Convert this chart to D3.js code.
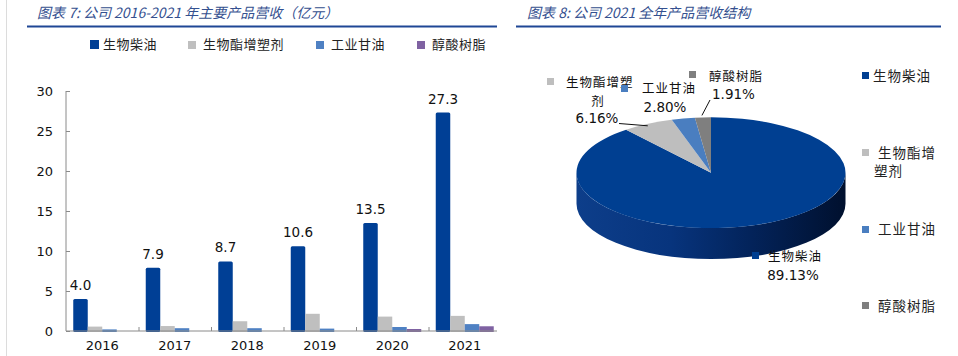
<!DOCTYPE html>
<html><head><meta charset="utf-8">
<script src="https://cdn.jsdelivr.net/npm/d3@7"></script>
<style>
html,body{margin:0;padding:0;background:#fff;}
svg{display:block;}
.cjk{font-family:"Noto Sans CJK SC","Noto Sans",sans-serif;}
.num{font-family:"DejaVu Sans",Verdana,sans-serif;}
</style></head>
<body>
<svg id="c" width="958" height="356"></svg>
<script>
// ---- data ----
const years = ["2016","2017","2018","2019","2020","2021"];
const seriesNames = ["生物柴油","生物酯增塑剂","工业甘油","醇酸树脂"];
const biodiesel   = [4.0, 7.9, 8.7, 10.6, 13.5, 27.3];
const plasticizer = [0.55, 0.62, 1.22, 2.15, 1.80, 1.89];
const glycerin    = [0.20, 0.35, 0.35, 0.30, 0.50, 0.86];
const alkyd       = [0, 0, 0, 0, 0.25, 0.59];
const yTicks = [0,5,10,15,20,25,30];
const pieNames  = ["生物柴油","生物酯增塑剂","工业甘油","醇酸树脂"];
const pieShares = [89.13, 6.16, 2.80, 1.91];

const barColors = ["#003f95","#bfbfbf","#4f81c3","#7f62a2"];
const pieColors = ["#003f91","#bebebe","#4a7ec0","#7f7f7f"];

const svg = d3.select("#c");

// ---- frame / titles ----
svg.append("line").attr("x1",6.5).attr("x2",6.5).attr("y1",0).attr("y2",356)
  .attr("stroke","#dcdcdc").attr("stroke-width",1);
const titleCol = "#34508f";
svg.append("text").attr("class","cjk").attr("x",37).attr("y",18)
  .attr("font-size",14).attr("font-style","italic").attr("fill",titleCol)
  .text("图表 7:  公司 2016-2021 年主要产品营收（亿元）");
svg.append("text").attr("class","cjk").attr("x",527).attr("y",18)
  .attr("font-size",14).attr("font-style","italic").attr("fill",titleCol)
  .text("图表 8:  公司 2021 全年产品营收结构");
svg.append("line").attr("x1",27).attr("x2",497).attr("y1",26.5).attr("y2",26.5)
  .attr("stroke","#1f4795").attr("stroke-width",2);
svg.append("line").attr("x1",516).attr("x2",941).attr("y1",26.5).attr("y2",26.5)
  .attr("stroke","#1f4795").attr("stroke-width",2);

// ---- bar chart ----
const x = d3.scaleBand().domain(years).range([66,501]).paddingInner(0).paddingOuter(0);
const xs = d3.scaleBand().domain(seriesNames).range([0,x.bandwidth()]).paddingInner(0).paddingOuter(0.5);
const y = d3.scaleLinear().domain([0,30]).range([331,91]);
const seriesVals = [biodiesel, plasticizer, glycerin, alkyd];

const left = svg.append("g");
left.append("clipPath").attr("id","clipL").append("rect").attr("x",0).attr("y",0).attr("width",497).attr("height",356);
const plot = left.append("g").attr("clip-path","url(#clipL)");

seriesVals.forEach((vals,si)=>{
  plot.selectAll(null).data(vals.map((v,i)=>({v,yr:years[i]}))).enter()
    .filter(d=>d.v>0)
    .append("rect")
    .attr("x",d=>x(d.yr)+xs(seriesNames[si]))
    .attr("y",d=>y(d.v))
    .attr("width",xs.bandwidth())
    .attr("height",d=>y(0)-y(d.v)+1)
    .attr("rx",si===0?1.5:0)
    .attr("fill",barColors[si]);
});

// axes
const axisCol = "#8a8a8a";
const yAxis = plot.append("g").attr("transform","translate(66,0)")
  .call(d3.axisLeft(y).tickValues(yTicks).tickSize(-4).tickPadding(13));
const xAxis = plot.append("g").attr("transform","translate(0,331)")
  .call(d3.axisBottom(x).tickSize(0).tickPadding(10));
[yAxis,xAxis].forEach(a=>{
  a.select(".domain").attr("stroke",axisCol);
  a.selectAll(".tick line").attr("stroke",axisCol);
  a.selectAll("text").attr("class","num").attr("font-size",13).attr("fill","#111");
});
yAxis.select(".domain").attr("d","M0,91V331");
xAxis.select(".domain").attr("d","M66,0H501");
// category boundary ticks (inward)
plot.append("g").selectAll("line").data(years.slice(1)).enter().append("line")
  .attr("x1",d=>x(d)+0.5).attr("x2",d=>x(d)+0.5).attr("y1",331).attr("y2",327)
  .attr("stroke",axisCol);
xAxis.selectAll("text").attr("font-size",13).attr("fill","#111");

// value labels on biodiesel bars
plot.selectAll(null).data(biodiesel.map((v,i)=>({v,yr:years[i]}))).enter()
  .append("text").attr("class","num")
  .attr("x",d=>x(d.yr)+xs(seriesNames[0])+xs.bandwidth()/2)
  .attr("y",d=>y(d.v)-9)
  .attr("text-anchor","middle").attr("font-size",13.5).attr("fill","#111")
  .text(d=>d.v.toFixed(1));

// legend (bar chart)
const legX = [90,188,316,417];
seriesNames.forEach((n,i)=>{
  const g = left.append("g");
  g.append("rect").attr("x",legX[i]).attr("y",i===0?40:41).attr("width",i===0?9:8).attr("height",i===0?9:8).attr("fill",barColors[i]);
  g.append("text").attr("class","cjk").attr("x",legX[i]+(i===0?13:15)).attr("y",49)
    .attr("font-size",13).attr("letter-spacing",0.5).attr("fill","#222").text(n);
});

// ---- 3D pie ----
const cx=711, cy=172.7, rx=134.5, ry=55.4, depth=31;
const P = a => [cx+rx*Math.sin(a), cy-ry*Math.cos(a)];
const pie = d3.pie().sort(null).value(d=>d)(pieShares);

const defs = svg.append("defs");
const grad = defs.append("linearGradient").attr("id","sideGrad").attr("x1","0").attr("x2","1").attr("y1","0").attr("y2","0");
[[0,"#0d3e8a"],[0.35,"#07347d"],[0.65,"#03235a"],[1,"#00102e"]].forEach(s=>
  grad.append("stop").attr("offset",s[0]).attr("stop-color",s[1]));

const pg = svg.append("g");
// side walls (front half: angles π/2..3π/2)
pie.forEach((s,i)=>{
  const a0 = Math.max(s.startAngle, Math.PI/2), a1 = Math.min(s.endAngle, 3*Math.PI/2);
  if (a1<=a0) return;
  const p0=P(a0), p1=P(a1);
  const d = `M${p0[0]},${p0[1]} A${rx},${ry} 0 0 1 ${p1[0]},${p1[1]} L${p1[0]},${p1[1]+depth} A${rx},${ry} 0 0 0 ${p0[0]},${p0[1]+depth} Z`;
  pg.append("path").attr("d",d).attr("fill", i===0?"url(#sideGrad)":d3.color(pieColors[i]).darker(0.8));
});
// top faces
pie.forEach((s,i)=>{
  const p0=P(s.startAngle), p1=P(s.endAngle);
  const large = (s.endAngle-s.startAngle)>Math.PI?1:0;
  pg.append("path")
    .attr("d",`M${cx},${cy} L${p0[0]},${p0[1]} A${rx},${ry} 0 ${large} 1 ${p1[0]},${p1[1]} Z`)
    .attr("fill",pieColors[i]);
});

// data labels
const lab = svg.append("g");
function sq(xp,yp,col,sz){ lab.append("rect").attr("x",xp).attr("y",yp).attr("width",sz||7).attr("height",sz||7).attr("fill",col); }
function tx(xp,yp,t,cls,anchor,size){ lab.append("text").attr("class",cls).attr("x",xp).attr("y",yp)
  .attr("text-anchor",anchor||"start").attr("font-size",size||13).attr("fill","#111")
  .attr("letter-spacing",cls==="cjk"?1:0).text(t); }
const pct = v => v.toFixed(2)+"%";
// 生物酯增塑剂
sq(547,78,pieColors[1],7);
tx(566,87,"生物酯增塑","cjk","start",12.5);
tx(598,105.5,"剂","cjk","middle",12.5);
tx(597,123,pct(pieShares[1]),"num","middle",13.5);
// 工业甘油
sq(621,85,pieColors[2],7);
tx(642,93,"工业甘油","cjk","start",12.5);
tx(665,112,pct(pieShares[2]),"num","middle",13.5);
// 醇酸树脂
sq(689,71,pieColors[3],7);
tx(709,81,"醇酸树脂","cjk","start",12.5);
tx(712,99,pct(pieShares[3]),"num","start",13.5);
// 生物柴油
sq(752,252,pieColors[0],7);
tx(768,261,"生物柴油","cjk","start",12.5);
tx(793,280,pct(pieShares[0]),"num","middle",13.5);
// leader lines
const s1 = pie[1], s3 = pie[3];
const m1 = P((s1.startAngle+s1.endAngle)/2), m3 = P((s3.startAngle+s3.endAngle)/2);
lab.append("path").attr("d",`M619,123.5 L${m1[0]},${m1[1]+2}`).attr("stroke","#111").attr("fill","none");
lab.append("path").attr("d",`M710,100 L${m3[0]-1},${m3[1]-2}`).attr("stroke","#111").attr("fill","none");

// right legend
const rl = svg.append("g");
const rlY = [72,149,226,302];
pieNames.forEach((n,i)=>{
  rl.append("rect").attr("x",862).attr("y",rlY[i]).attr("width",7).attr("height",7).attr("fill",pieColors[i]);
});
function rt(xp,yp,t){ rl.append("text").attr("class","cjk").attr("x",xp).attr("y",yp).attr("font-size",13.5)
  .attr("letter-spacing",1).attr("fill","#222").text(t); }
rt(873,81,pieNames[0]);
rt(878,158,"生物酯增");
rt(874,176,"塑剂");
rt(878,234,pieNames[2]);
rt(878,311,pieNames[3]);
</script>
</body></html>
